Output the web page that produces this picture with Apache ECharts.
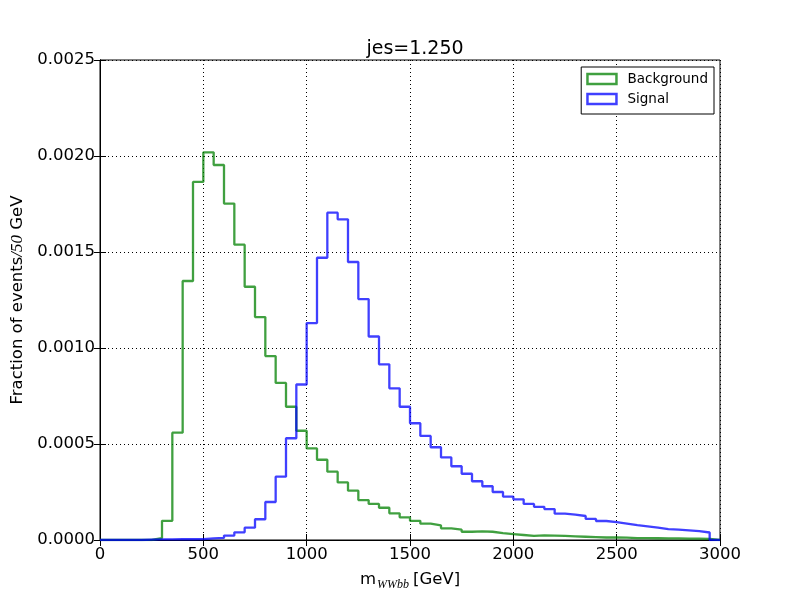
<!DOCTYPE html>
<html>
<head>
<meta charset="utf-8">
<script src="https://cdn.jsdelivr.net/npm/echarts@6/dist/echarts.min.js"></script>
<style>html,body{margin:0;padding:0;background:#fff}#c{width:800px;height:600px}</style>
</head>
<body>
<div id="c"></div>
<script>
const binWidth = 50;
const xTicks = [0, 500, 1000, 1500, 2000, 2500, 3000];
const yTicks = [0, 0.0005, 0.0010, 0.0015, 0.0020, 0.0025];
const background = [
  0, 0, 0, 0, 0, 0.00001, 0.0001, 0.000559, 0.001349, 0.001865,
  0.002019, 0.001953, 0.001752, 0.001538, 0.001319, 0.001161, 0.000958, 0.000818, 0.000694, 0.000569,
  0.000477, 0.000418, 0.000356, 0.0003, 0.000257, 0.000208, 0.000188, 0.000168, 0.000139, 0.000118,
  0.0001, 0.000085, 0.000076, 0.000061, 0.000054, 0.000043, 0.000045, 0.000043, 0.000036, 0.000031,
  0.000026, 0.000021, 0.000024, 0.000023, 0.000021, 0.000019, 0.000017, 0.000015, 0.000013, 0.000013,
  0.000012, 0.00001, 0.00001, 0.000009, 0.000008, 0.000008, 0.000007, 0.000007, 0.000006, 0
];
const signal = [
  0, 0, 0, 0, 0.000002, 0.000003, 0.000003, 0.000004, 0.000004, 0.000005,
  0.000008, 0.000011, 0.000023, 0.00004, 0.000064, 0.000108, 0.000198, 0.00033, 0.00053, 0.00081,
  0.00113, 0.00147, 0.001705, 0.00167, 0.001448, 0.001255, 0.00106, 0.000915, 0.00079, 0.000694,
  0.000608, 0.000542, 0.000483, 0.00043, 0.000384, 0.000345, 0.000306, 0.00028, 0.00025, 0.000226,
  0.000212, 0.000188, 0.000173, 0.000161, 0.000137, 0.000132, 0.000125, 0.00011, 0.000099, 0.000093,
  0.000085, 0.000077, 0.000071, 0.000065, 0.000057, 0.000054, 0.00005, 0.000046, 0.000039, 0
];
const xMax = 3000;

function toSteps(vals) {
  const pts = vals.map((v, i) => [i * binWidth, v]);
  pts.push([vals.length * binWidth, 0]);
  if (vals.length * binWidth < xMax) pts.push([xMax, 0]);
  return pts;
}

const green = 'rgba(0,128,0,0.75)';
const blue = 'rgba(0,0,255,0.75)';
const font = 'DejaVu Sans';
const gridLine = { show: true, lineStyle: { color: '#000', type: [1, 3], width: 1 } };

const chart = echarts.init(document.getElementById('c'), null, { renderer: 'canvas' });
chart.setOption({
  animation: false,
  backgroundColor: '#fff',
  title: {
    text: 'jes=1.250', left: 410, top: 35, textAlign: 'center',
    textStyle: { fontFamily: font, fontSize: 19, fontWeight: 'normal', color: '#000' }
  },
  grid: { left: 100, right: 80, top: 60, bottom: 60, show: true, borderColor: '#000', borderWidth: 1 },
  legend: {
    orient: 'vertical', right: 86, top: 67,
    padding: [5, 6, 8, 5], itemWidth: 29, itemHeight: 10, itemGap: 6,
    backgroundColor: '#fff', borderColor: '#000', borderWidth: 1, borderRadius: 0,
    icon: 'rect',
    textStyle: { fontFamily: font, fontSize: 13.5, color: '#000', padding: [0, 0, 0, 6] },
    data: [
      { name: 'Background', itemStyle: { color: '#fff', borderColor: green, borderWidth: 2.5 } },
      { name: 'Signal', itemStyle: { color: '#fff', borderColor: blue, borderWidth: 2.5 } }
    ]
  },
  xAxis: [{
    type: 'value', min: xTicks[0], max: xTicks[xTicks.length - 1], interval: 500,
    axisLine: { show: true, lineStyle: { color: '#000' } },
    axisTick: { show: true, inside: true, length: 6, lineStyle: { color: '#000' } },
    axisLabel: { fontFamily: font, fontSize: 16.5, color: '#000', margin: 6, formatter: v => String(v) },
    splitLine: gridLine,
    name: '{a|m}{s|WWbb}{b|[GeV]}', nameLocation: 'middle', nameGap: 29,
    nameTextStyle: {
      rich: {
        a: { fontFamily: font, fontSize: 16.5, color: '#000', lineHeight: 22 },
        b: { fontFamily: font, fontSize: 16.5, color: '#000', lineHeight: 22, padding: [0, 0, 0, 3] },
        s: { fontFamily: 'Liberation Serif', fontStyle: 'italic', fontSize: 12, color: '#000', padding: [9, 1, 0, 1], lineHeight: 22 }
      }
    }
  }, {
    type: 'value', position: 'top', min: 0, max: 3000, interval: 500,
    axisLine: { show: true, lineStyle: { color: '#000' } },
    axisTick: { show: true, inside: true, length: 6, lineStyle: { color: '#000' } },
    axisLabel: { show: false }, splitLine: { show: false }
  }],
  yAxis: [{
    type: 'value', min: yTicks[0], max: yTicks[yTicks.length - 1], interval: 0.0005,
    axisLine: { show: true, lineStyle: { color: '#000' } },
    axisTick: { show: true, inside: true, length: 6, lineStyle: { color: '#000' } },
    axisLabel: { fontFamily: font, fontSize: 16.5, color: '#000', margin: 5, formatter: v => v.toFixed(4) },
    splitLine: gridLine,
    name: '{a|Fraction of events}{m|/50}{a| GeV}', nameLocation: 'middle', nameRotate: 90, nameGap: 74,
    nameTextStyle: {
      rich: {
        a: { fontFamily: font, fontSize: 16.5, color: '#000' },
        m: { fontFamily: 'Liberation Serif', fontStyle: 'italic', fontSize: 17, color: '#000' }
      }
    }
  }, {
    type: 'value', position: 'right', min: 0, max: 0.0025, interval: 0.0005,
    axisLine: { show: true, lineStyle: { color: '#000' } },
    axisTick: { show: true, inside: true, length: 6, lineStyle: { color: '#000' } },
    axisLabel: { show: false }, splitLine: { show: false }
  }],
  series: [
    {
      name: 'Background', type: 'line', step: 'end', showSymbol: false, symbol: 'none',
      data: toSteps(background), color: green,
      lineStyle: { color: green, width: 2.3 }, z: 3
    },
    {
      name: 'Signal', type: 'line', step: 'end', showSymbol: false, symbol: 'none',
      data: toSteps(signal), color: blue,
      lineStyle: { color: blue, width: 2.3 }, z: 4
    }
  ]
});
</script>
</body>
</html>
